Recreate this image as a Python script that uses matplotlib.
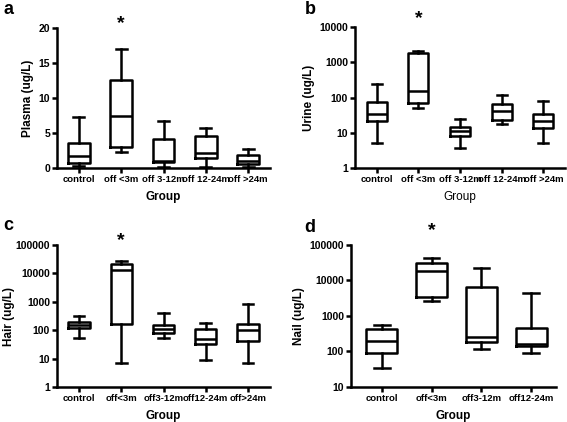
import matplotlib
matplotlib.use("Agg")
import matplotlib.pyplot as plt
import matplotlib.transforms as mtransforms
from matplotlib.ticker import FixedLocator, NullLocator

plt.rcParams['font.family'] = ['Liberation Sans', 'DejaVu Sans']
plt.rcParams['font.weight'] = 'bold'

# ---------------- data ----------------
groups_a = ["control", "off <3m", "off 3-12m", "off 12-24m", "off >24m"]
plasma_min = [0.35, 2.3, 0.25, 0.25, 0.25]
plasma_q1 = [0.7, 3.0, 0.85, 1.4, 0.6]
plasma_med = [1.7, 7.5, 1.0, 2.15, 1.05]
plasma_q3 = [3.6, 12.6, 4.2, 4.6, 1.9]
plasma_max = [7.3, 17.0, 6.8, 5.7, 2.7]

groups_b = ["control", "off <3m", "off 3-12m", "off 12-24m", "off >24m"]
urine_min = [5.1, 51, 3.7, 18, 5.3]
urine_q1 = [22, 69, 8.2, 23, 13.5]
urine_med = [34, 155, 11.4, 42, 22]
urine_q3 = [75, 1850, 15, 66, 35]
urine_max = [240, 2100, 25, 119, 81]

groups_c = ["control", "off<3m", "off3-12m", "off12-24m", "off>24m"]
hair_min = [55, 6.8, 52, 8.9, 7.2]
hair_q1 = [117, 160, 78, 32, 43]
hair_med = [150, 13500, 110, 48, 102]
hair_q3 = [195, 22000, 152, 107, 161]
hair_max = [316, 27000, 415, 175, 835]

groups_d = ["control", "off<3m", "off3-12m", "off12-24m"]
nail_min = [34, 2700, 117, 90]
nail_q1 = [90, 3300, 184, 139]
nail_med = [190, 19000, 250, 165]
nail_q3 = [430, 31000, 6400, 455]
nail_max = [560, 42000, 22400, 4500]

W, H = 567, 422
fig = plt.figure(figsize=(W / 100, H / 100), dpi=100)


def rect(l, r, t, b):
    return [l / W, 1 - b / H, (r - l) / W, (b - t) / H]


LW = 1.8


def panel(pos, groups, mn, q1, med, q3, mx, ylabel, yscale, yticks, ylim,
          xlim, width, letter, letter_xy, star_idx, star_y, xlabel_bold=True,
          ylabelpad=3):
    ax = fig.add_axes(pos)
    stats = []
    for i in range(len(groups)):
        stats.append(dict(whislo=mn[i], q1=q1[i], med=med[i], q3=q3[i],
                          whishi=mx[i], fliers=[]))
    positions = list(range(1, len(groups) + 1))
    ax.bxp(stats, positions=positions, widths=width, capwidths=width * 0.5,
           showfliers=False, patch_artist=False,
           boxprops=dict(color='black', linewidth=LW),
           medianprops=dict(color='black', linewidth=LW),
           whiskerprops=dict(color='black', linewidth=LW),
           capprops=dict(color='black', linewidth=LW))
    ax.set_yscale(yscale)
    ax.set_ylim(*ylim)
    ax.set_xlim(*xlim)
    ax.yaxis.set_major_locator(FixedLocator(yticks))
    ax.yaxis.set_minor_locator(NullLocator())
    ax.set_yticklabels([str(v) for v in yticks])
    ax.set_xticks(positions)
    ax.set_xticklabels(groups)
    for s in ['top', 'right']:
        ax.spines[s].set_visible(False)
    for s in ['left', 'bottom']:
        ax.spines[s].set_linewidth(LW)
    ax.tick_params(axis='both', direction='out', length=3.5, width=LW,
                   pad=1.5)
    ax.tick_params(axis='x', labelsize=6.8)
    ax.tick_params(axis='y', labelsize=7.5)
    for lab in ax.get_xticklabels() + ax.get_yticklabels():
        lab.set_fontweight('bold')
    ax.set_ylabel(ylabel, fontsize=8.5, fontweight='bold', labelpad=ylabelpad)
    ax.set_xlabel("Group", fontsize=8.5,
                  fontweight='bold' if xlabel_bold else 'normal', labelpad=5)
    trans = mtransforms.blended_transform_factory(ax.transData, ax.transAxes)
    ax.text(positions[star_idx], star_y, "*", transform=trans, ha='center',
            va='center', fontsize=14, fontweight='bold', clip_on=False)
    fig.text(letter_xy[0] / W, 1 - letter_xy[1] / H, letter, fontsize=13,
             fontweight='bold', ha='center', va='center')
    return ax


panel(rect(57, 270, 28, 168.3), groups_a, plasma_min, plasma_q1, plasma_med,
      plasma_q3, plasma_max, "Plasma (ug/L)", 'linear', [0, 5, 10, 15, 20],
      (0, 20), (0.48, 5.52), 0.52, "a", (8, 10), 1, 1.03)

panel(rect(355, 565, 27, 168.3), groups_b, urine_min, urine_q1, urine_med,
      urine_q3, urine_max, "Urine (ug/L)", 'log', [1, 10, 100, 1000, 10000],
      (1, 10000), (0.48, 5.52), 0.48, "b", (310, 10), 1, 1.06,
      xlabel_bold=False)

panel(rect(57, 270, 245, 387), groups_c, hair_min, hair_q1, hair_med,
      hair_q3, hair_max, "Hair (ug/L)", 'log',
      [1, 10, 100, 1000, 10000, 100000], (1, 100000), (0.48, 5.52), 0.5,
      "c", (8, 226), 1, 1.03, ylabelpad=0.5)

panel(rect(351, 556, 245, 386.7), groups_d, nail_min, nail_q1, nail_med,
      nail_q3, nail_max, "Nail (ug/L)", 'log',
      [10, 100, 1000, 10000, 100000], (10, 100000), (0.38, 4.5), 0.62,
      "d", (310, 228), 1, 1.10)

fig.savefig("out.png", dpi=100)
